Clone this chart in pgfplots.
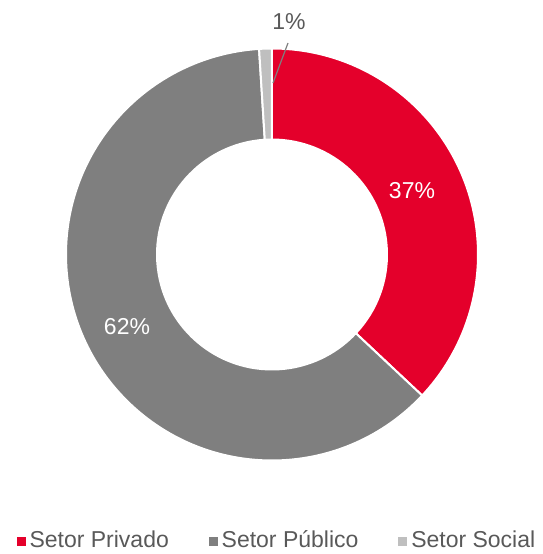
\documentclass[border=0pt]{standalone}
\usepackage{pgfplots}
\pgfplotsset{compat=1.18}
\usepackage{pgfplotstable}
\usepackage{fontspec}
\setmainfont{Liberation Sans}

\definecolor{privado}{HTML}{E4002B}
\definecolor{publico}{HTML}{7F7F7F}
\definecolor{social}{HTML}{BFBFBF}
\definecolor{txt}{HTML}{595959}

% share of each sector, in percent
\pgfplotstableread{
setor value
Privado 37
Publico 62
Social 1
}\shares

\pgfplotstablegetelem{0}{value}\of\shares \let\vA\pgfplotsretval
\pgfplotstablegetelem{1}{value}\of\shares \let\vB\pgfplotsretval
\pgfplotstablegetelem{2}{value}\of\shares \let\vC\pgfplotsretval

% angles, clockwise from the top
\pgfmathsetmacro\aA{90}
\pgfmathsetmacro\aB{\aA-3.6*\vA}
\pgfmathsetmacro\aC{\aB-3.6*\vB}
\pgfmathsetmacro\aD{\aC-3.6*\vC}

% ring: 1 axis unit = 0.5pt, outer 206, inner 115 units
\def\Ro{103pt}
\def\Ri{57.5pt}
\def\Rw{45.5pt}
\newcommand\ring[3]{%
  \fill[#3, draw=white, line width=1pt] (axis cs:272,299.5) ++(#1:\Ro)
    arc[start angle=#1, end angle=#2, radius=\Ro]
    -- ++({#2+180}:\Rw)
    arc[start angle=#2, end angle=#1, radius=\Ri] -- cycle;}

\begin{document}
\begin{tikzpicture}
\begin{axis}[
  scale only axis, width=271.5pt, height=277pt,
  xmin=0, xmax=543, ymin=0, ymax=554,
  hide axis, clip=false,
  legend style={at={(axis cs:278,13)}, anchor=center, draw=none, fill=none,
    legend columns=3, font=\fontsize{11.5}{13}\selectfont, text=txt,
    /tikz/every even column/.style={column sep=18pt}},
  legend cell align=left,
]
\addlegendimage{legend image code/.code={\fill[privado] (0pt,-2pt) rectangle (4pt,2pt);}}
\addlegendentry{Setor Privado}
\addlegendimage{legend image code/.code={\fill[publico] (0pt,-2pt) rectangle (4pt,2pt);}}
\addlegendentry{Setor Público}
\addlegendimage{legend image code/.code={\fill[social] (0pt,-2pt) rectangle (4pt,2pt);}}
\addlegendentry{Setor Social}

\ring{\aA}{\aB}{privado}
\ring{\aB}{\aC}{publico}
\ring{\aC}{\aD}{social}

\node[white, font=\fontsize{11.5}{13}\selectfont] at (axis cs:412,363) {37\%};
\node[white, font=\fontsize{11.5}{13}\selectfont] at (axis cs:127,227) {62\%};
\draw[publico, line width=0.6pt] (axis cs:288,511) -- (axis cs:273,471);
\node[txt, font=\fontsize{11.5}{13}\selectfont] at (axis cs:289,532) {1\%};
\end{axis}
\pgfresetboundingbox
\path (current axis.south west) rectangle (current axis.north east);
\end{tikzpicture}
\end{document}
